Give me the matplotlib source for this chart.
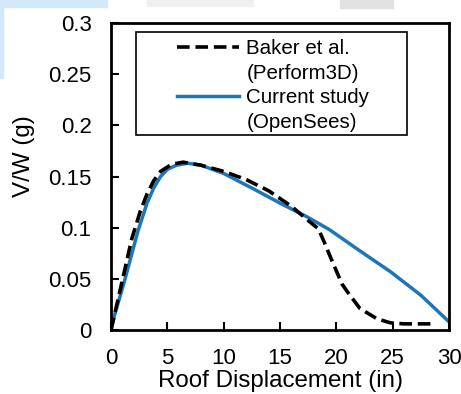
import matplotlib
matplotlib.use("Agg")
import matplotlib.pyplot as plt
from matplotlib.lines import Line2D
from matplotlib.patches import Rectangle

plt.rcParams['font.family'] = ['Liberation Sans', 'DejaVu Sans']

# Baker et al. (Perform3D) pushover curve
baker_x = [0, 1.1, 1.84, 2.6, 3.2, 3.8, 4.4, 5.4, 6.4, 8, 10, 12, 14, 16,
           17.5, 18.4, 19.0, 19.6, 20.5, 21.0, 22.1, 23.6, 24.8, 26, 28.7]
baker_y = [0, 0.053, 0.089, 0.116, 0.133, 0.146, 0.155, 0.162, 0.164, 0.161,
           0.155, 0.147, 0.136, 0.121, 0.107, 0.099, 0.084, 0.068, 0.045,
           0.037, 0.021, 0.011, 0.007, 0.006, 0.006]

# Current study (OpenSees) pushover curve
cur_x = [0, 0.3, 1.2, 2.4, 3.2, 3.8, 4.4, 5.0, 5.8, 6.8, 8.0, 10, 12.8, 15,
         17.5, 19.4, 22, 24.8, 27.5, 30]
cur_y = [0, 0.014, 0.048, 0.097, 0.124, 0.139, 0.150, 0.157, 0.161, 0.163,
         0.161, 0.153, 0.137, 0.124, 0.110, 0.098, 0.078, 0.057, 0.034, 0.008]

x_ticks = [0, 5, 10, 15, 20, 25, 30]
y_ticks = [0, 0.05, 0.1, 0.15, 0.2, 0.25, 0.3]
y_tick_labels = ["0", "0.05", "0.1", "0.15", "0.2", "0.25", "0.3"]

blue = "#1f76b6"

fig = plt.figure(figsize=(4.61, 3.94), dpi=100)

# scanned-page artefacts along the top edge
for (x0, y0, w, h, c) in [(0, 0, 107, 7, "#d3e8f8"), (0, 0, 3, 78, "#d3e8f8"),
                          (147, 0, 106, 6, "#efefef"), (340, 0, 53, 8, "#e2e2e2")]:
    fig.patches.append(Rectangle((x0 / 461, 1 - (y0 + h) / 394), w / 461, h / 394,
                                 transform=fig.transFigure, color=c, zorder=0))

ax = fig.add_axes([111 / 461, 64 / 394, 338 / 461, 307 / 394])

ax.plot(cur_x, cur_y, color=blue, linewidth=2.5, solid_capstyle='butt')
ax.plot(baker_x, baker_y, color="black", linewidth=2.6, dashes=(3.5, 1.6))

ax.set_xlim(0, 30)
ax.set_ylim(0, 0.3)
ax.set_xticks(x_ticks)
ax.set_yticks(y_ticks)
ax.set_yticklabels(y_tick_labels)
ax.tick_params(direction='in', length=6, width=1.5, labelsize=16)
ax.tick_params(axis='y', pad=14)
ax.tick_params(axis='x', pad=13)
for s in ax.spines.values():
    s.set_linewidth(2.0)

ax.set_xlabel("Roof Displacement (in)", fontsize=17.4, labelpad=1)
ax.set_ylabel("V/W (g)", fontsize=17.4)
ax.yaxis.set_label_coords(-0.225, 0.567)

# legend frame, wider than its contents as in the original
ax.add_patch(Rectangle((0.074, 0.635), 0.802, 0.3355, transform=ax.transAxes,
                       facecolor="white", edgecolor="black", linewidth=1.2,
                       zorder=4))

# legend: handle sits on the first line of each two-line label
handles = [
    Line2D([], [], color="black", linewidth=2.6, dashes=(3.5, 1.6)),
    Line2D([], [], color="none"),
    Line2D([], [], color=blue, linewidth=2.5),
    Line2D([], [], color="none"),
]
labels = ["Baker et al.", "(Perform3D)", "Current study", "(OpenSees)"]
leg = ax.legend(handles, labels, loc='upper left',
                bbox_to_anchor=(0.195, 0.948), fontsize=14.8, frameon=False,
                handlelength=3.0, handletextpad=0.38, labelspacing=0.28,
                borderpad=0, borderaxespad=0)
leg.set_zorder(5)

fig.savefig("out.png", dpi=100)
